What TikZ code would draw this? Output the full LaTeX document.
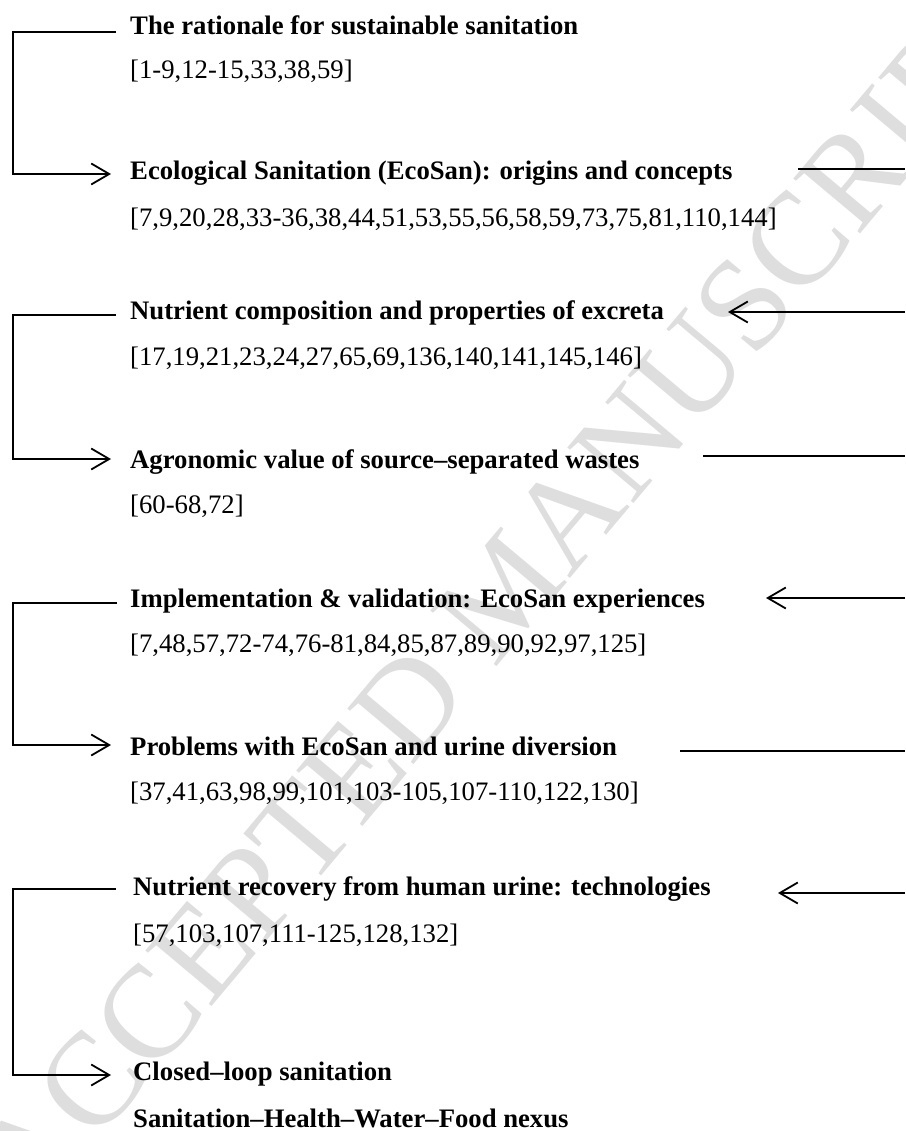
\documentclass[tikz,border=0pt]{standalone}
\usepackage{fontspec}
\setmainfont{Liberation Serif}
\usetikzlibrary{arrows.meta}
\begin{document}
\begin{tikzpicture}[x=1pt,y=-1pt,
  title/.style={anchor=base west,inner sep=0pt,font=\fontsize{26.7}{30}\selectfont\bfseries},
  refs/.style={anchor=base west,inner sep=0pt,font=\fontsize{26.7}{30}\selectfont},
  link/.style={line width=1.8pt,line join=miter},
  linkarrow/.style={link,-{Straight Barb[length=18pt,width=21pt,line width=1.8pt]}},
  watermark/.style={rotate=50,text=black!13,inner sep=0pt,font=\fontsize{132}{132}\selectfont}]
\useasboundingbox (0,0) rectangle (905,1131);
\node[watermark] (wm) at (505,590) {ACCEPTED MANUSCRIPT};

% text nodes
\node[title] (t1) at (130,35) {The rationale for sustainable sanitation};
\node[refs]  (r1) at (130,79) {[1-9,12-15,33,38,59]};
\node[title] (t2) at (130,180) {Ecological Sanitation (EcoSan): origins and concepts};
\node[refs]  (r2) at (130,227) {[7,9,20,28,33-36,38,44,51,53,55,56,58,59,73,75,81,110,144]};
\node[title] (t3) at (130,319) {Nutrient composition and properties of excreta};
\node[refs]  (r3) at (130,365) {[17,19,21,23,24,27,65,69,136,140,141,145,146]};
\node[title] (t4) at (130,468) {Agronomic value of source–separated wastes};
\node[refs]  (r4) at (130,513) {[60-68,72]};
\node[title] (t5) at (130,607) {Implementation \& validation: EcoSan experiences};
\node[refs]  (r5) at (130,652) {[7,48,57,72-74,76-81,84,85,87,89,90,92,97,125]};
\node[title] (t6) at (130,755) {Problems with EcoSan and urine diversion};
\node[refs]  (r6) at (130,800) {[37,41,63,98,99,101,103-105,107-110,122,130]};
\node[title] (t7) at (133,895) {Nutrient recovery from human urine: technologies};
\node[refs]  (r7) at (133,942) {[57,103,107,111-125,128,132]};
\node[title] (t8) at (133,1080) {Closed–loop sanitation};
\node[title] (t9) at (133,1127) {Sanitation–Health–Water–Food nexus};

% connector end points (left side)
\coordinate (a1) at (116,32);   \coordinate (b1) at (111,174);
\coordinate (a2) at (116,315);  \coordinate (b2) at (111,459);
\coordinate (a3) at (117,603);  \coordinate (b3) at (111,745);
\coordinate (a4) at (116,889);  \coordinate (b4) at (111,1075);
\coordinate (k) at (13,0);

\draw[linkarrow] (a1) -- (a1 -| k) -- (b1 -| k) -- (b1);
\draw[linkarrow] (a2) -- (a2 -| k) -- (b2 -| k) -- (b2);
\draw[linkarrow] (a3) -- (a3 -| k) -- (b3 -| k) -- (b3);
\draw[linkarrow] (a4) -- (a4 -| k) -- (b4 -| k) -- (b4);

% connector end points (right side, running off the page)
\coordinate (e1) at (798,169);  \coordinate (f1) at (905,169);
\coordinate (e2) at (728,312);  \coordinate (f2) at (905,312);
\coordinate (e3) at (703,456);  \coordinate (f3) at (905,456);
\coordinate (e4) at (766,598);  \coordinate (f4) at (905,598);
\coordinate (e5) at (680,751);  \coordinate (f5) at (905,751);
\coordinate (e6) at (778,893);  \coordinate (f6) at (905,893);

\draw[link] (e1) -- (f1);
\draw[linkarrow] (f2) -- (e2);
\draw[link] (e3) -- (f3);
\draw[linkarrow] (f4) -- (e4);
\draw[link] (e5) -- (f5);
\draw[linkarrow] (f6) -- (e6);
\end{tikzpicture}
\end{document}
